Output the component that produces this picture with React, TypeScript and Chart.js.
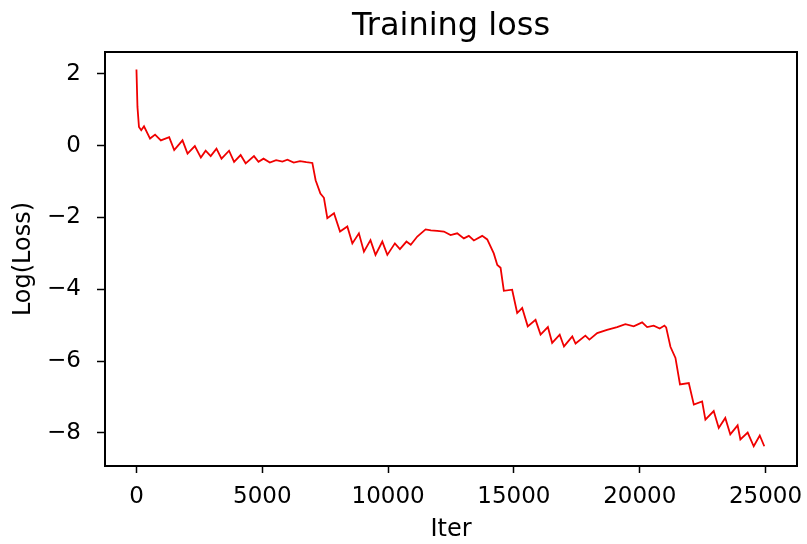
import React, { useEffect, useRef } from "react";
import { Chart, registerables } from "chart.js";

Chart.register(...registerables);

const TITLE = "Training loss";
const X_LABEL = "Iter";
const Y_LABEL = "Log(Loss)";

const iters = [
  0, 40, 100, 190, 300, 540, 740, 970, 1300, 1500, 1830, 2030, 2320, 2560, 2750, 2950,
  3180, 3380, 3680, 3880, 4140, 4340, 4670, 4850, 5050, 5300, 5550, 5800, 6000, 6250,
  6500, 6750, 6990, 7120, 7310, 7450, 7585, 7850, 8090, 8380, 8580, 8840, 9040, 9300,
  9500, 9770, 9970, 10270, 10470, 10730, 10900, 11160, 11490, 11700, 11950, 12217, 12482,
  12748, 13010, 13209, 13408, 13740, 13940, 14200, 14340, 14470, 14600, 14930,
  15130, 15330, 15550, 15860, 16060, 16350, 16520, 16820, 16990, 17320, 17450, 17840,
  18000, 18310, 18700, 19100, 19430, 19762, 20095, 20294, 20556, 20795, 20981, 21050, 21220,
  21420, 21600, 21950, 22150, 22480, 22610, 22940, 23140, 23400, 23600, 23890, 24000,
  24290, 24530, 24770, 24950,
];

const logLoss = [
  2.12, 1.08, 0.52, 0.43, 0.54, 0.2, 0.31, 0.15, 0.24, -0.12, 0.15, -0.22, -0.01, -0.33, -0.14, -0.29,
  -0.08, -0.36, -0.14, -0.45, -0.26, -0.49, -0.29, -0.45, -0.36, -0.47, -0.4, -0.44, -0.39, -0.47,
  -0.43, -0.46, -0.48, -0.96, -1.33, -1.45, -2.02, -1.88, -2.39, -2.25, -2.72, -2.44, -2.95, -2.63,
  -3.04, -2.67, -3.04, -2.72, -2.88, -2.67, -2.76, -2.53, -2.33, -2.36, -2.37, -2.39, -2.49,
  -2.44, -2.58, -2.51, -2.64, -2.51, -2.61, -3.0, -3.32, -3.4, -4.04, -4.01,
  -4.66, -4.52, -5.03, -4.85, -5.26, -5.05, -5.49, -5.26, -5.59, -5.31, -5.51, -5.29,
  -5.4, -5.22, -5.13, -5.05, -4.97, -5.03, -4.92, -5.05, -5.01, -5.09, -5.01, -5.06, -5.6,
  -5.91, -6.65, -6.61, -7.21, -7.12, -7.63, -7.39, -7.86, -7.58, -8.04, -7.79, -8.18,
  -7.99, -8.37, -8.07, -8.37,
];

const xTickValues = [0, 5000, 10000, 15000, 20000, 25000];
const xTickLabels = ["0", "5000", "10000", "15000", "20000", "25000"];
const yTickValues = [-8, -6, -4, -2, 0, 2];
const yTickLabels = ["\u22128", "\u22126", "\u22124", "\u22122", "0", "2"];

const FONT = "'DejaVu Sans', sans-serif";

const framePlugin = {
  id: "frame",
  afterDraw(chart: any) {
    const { ctx, chartArea } = chart;
    ctx.save();
    ctx.strokeStyle = "#000";
    ctx.lineWidth = 2;
    ctx.strokeRect(chartArea.left, chartArea.top, chartArea.right - chartArea.left, chartArea.bottom - chartArea.top);
    ctx.restore();
  },
};

export default function App() {
  const ref = useRef<HTMLCanvasElement | null>(null);

  useEffect(() => {
    if (!ref.current) return;
    const data = iters.map((x, i) => ({ x, y: logLoss[i] }));
    const chart = new Chart(ref.current, {
      type: "line",
      data: {
        datasets: [
          {
            data,
            borderColor: "#f00000",
            borderWidth: 1.8,
            pointRadius: 0,
            tension: 0,
            fill: false,
          },
        ],
      },
      plugins: [framePlugin],
      options: {
        animation: false,
        responsive: false,
        events: [],
        layout: { padding: { left: 0, right: 10, top: 0, bottom: 0 } },
        plugins: {
          legend: { display: false },
          tooltip: { enabled: false },
          title: {
            display: true,
            text: TITLE,
            fullSize: false,
            color: "#000",
            font: { family: FONT, size: 32, weight: "normal" },
            padding: { top: 7, bottom: 6.6 },
          },
        },
        scales: {
          x: {
            type: "linear",
            min: -1250,
            max: 26250,
            afterBuildTicks: (s: any) => {
              s.ticks = xTickValues.map((v) => ({ value: v }));
            },
            afterFit: (s: any) => {
              s.height = 78;
              s.paddingLeft = 0;
              s.paddingRight = 0;
            },
            ticks: {
              autoSkip: false,
              maxRotation: 0,
              color: "#000",
              padding: 10,
              font: { family: FONT, size: 23 },
              callback: (_v: any, i: number) => xTickLabels[i],
            },
            grid: {
              display: true,
              drawOnChartArea: false,
              drawTicks: true,
              tickLength: 7,
              tickColor: "#000",
              tickWidth: 1.5,
            },
            border: { display: false },
            title: {
              display: true,
              text: X_LABEL,
              color: "#000",
              font: { family: FONT, size: 24 },
              padding: { top: 0, bottom: 0 },
            },
          },
          y: {
            type: "linear",
            min: -8.92,
            max: 2.61,
            afterBuildTicks: (s: any) => {
              s.ticks = yTickValues.map((v) => ({ value: v }));
            },
            afterFit: (s: any) => {
              s.width = 105;
              s.paddingTop = 0;
              s.paddingBottom = 0;
            },
            ticks: {
              autoSkip: false,
              color: "#000",
              padding: 16,
              font: { family: FONT, size: 23 },
              callback: (_v: any, i: number) => yTickLabels[i],
            },
            grid: {
              display: true,
              drawOnChartArea: false,
              drawTicks: true,
              tickLength: 8,
              tickColor: "#000",
              tickWidth: 1.5,
            },
            border: { display: false },
            title: {
              display: true,
              text: Y_LABEL,
              color: "#000",
              font: { family: FONT, size: 24 },
              padding: { top: 9, bottom: 0 },
            },
          },
        },
      },
    } as any);
    return () => chart.destroy();
  }, []);

  return (
    <div style={{ position: "absolute", left: 0, top: 0, width: 807, height: 544, background: "#fff" }}>
      <canvas ref={ref} width={807} height={544} style={{ display: "block" }} />
    </div>
  );
}
